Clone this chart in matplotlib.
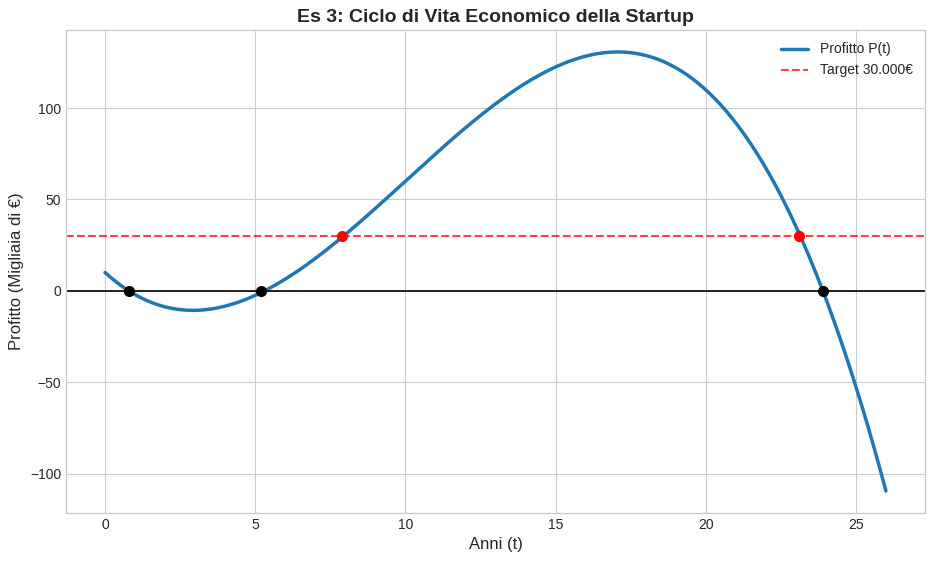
import numpy as np
import matplotlib
matplotlib.use("Agg")
import matplotlib.pyplot as plt

plt.style.use("seaborn-v0_8-whitegrid")

# Polynomial coefficients of P(t) (highest degree first)
coeffs = [-0.1, 3.0, -15.0, 10.0]
t_range = [0.0, 26.0]
target = 30.0
zero_t = [0.8, 5.2, 23.9]
target_t = [7.9, 23.1]

t = np.linspace(t_range[0], t_range[1], 400)
p = np.polyval(coeffs, t)

fig, ax = plt.subplots(figsize=(9.34, 5.63), dpi=100)
fig.subplots_adjust(left=66 / 934, right=925 / 934, top=1 - 30 / 563, bottom=1 - 513 / 563)
ax.plot(t, p, color="#1f77b4", lw=2.5, label="Profitto P(t)")
ax.axhline(target, color="red", ls="--", lw=1.5, alpha=0.75, label="Target 30.000€")
ax.axhline(0, color="black", lw=1.2)
ax.plot(zero_t, [0] * len(zero_t), "o", color="black", ms=7, zorder=5)
ax.plot(target_t, [target] * len(target_t), "o", color="red", ms=7, zorder=5)

ax.set_title("Es 3: Ciclo di Vita Economico della Startup", fontsize=14, fontweight="bold")
ax.set_xlabel("Anni (t)", fontsize=12)
ax.set_ylabel("Profitto (Migliaia di €)", fontsize=12)
ax.legend(loc="upper right", fontsize=10)
for s in ax.spines.values():
    s.set_visible(True)
    s.set_color("#cccccc")

fig.savefig("out.png", dpi=100)
